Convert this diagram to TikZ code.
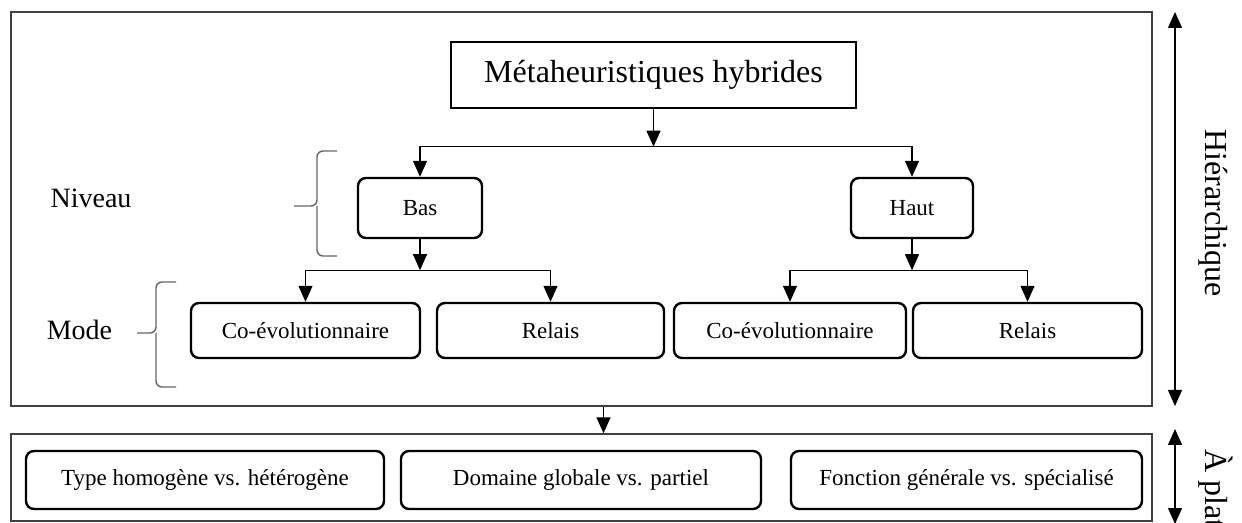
\documentclass[tikz,border=0pt]{standalone}
\usepackage{fontspec}
\setmainfont{Liberation Serif}
\usetikzlibrary{arrows.meta}

\begin{document}
\begin{tikzpicture}[x=0.5pt,y=-0.5pt,
    cadre/.style={draw=black!75, line width=0.7pt, inner sep=0pt},
    boite/.style={draw, line width=1.2pt, rounded corners=4pt, inner sep=0pt,
        minimum height=27.5pt, font=\fontsize{11.5}{13}\selectfont},
    fleche/.style={-{Triangle[width=7pt,length=8pt]}, line width=0.65pt},
    accolade/.style={draw=black!60, line width=0.7pt, rounded corners=3pt},
    grand/.style={font=\fontsize{16}{19}\selectfont}]
    \useasboundingbox (0,0) rectangle (1242,523);

    % les deux cadres
    \node[cadre, minimum width=570.5pt, minimum height=197pt] (hier) at (581.5,209) {};
    \node[cadre, minimum width=570.5pt, minimum height=43.5pt] (plat) at (581.5,477.5) {};

    % hierarchie
    \node[draw, line width=0.7pt, inner sep=0pt, minimum width=202.5pt, minimum height=33pt, grand]
        (titre) at (653.5,75) {Métaheuristiques hybrides};
    \node[boite, minimum width=62pt, minimum height=30pt] (bas) at (420,208) {Bas};
    \node[boite, minimum width=61pt, minimum height=30pt] (haut) at (912,208) {Haut};
    \node[boite, minimum width=114.5pt] (coL) at (305.5,330.5) {Co-évolutionnaire};
    \node[boite, minimum width=113.5pt] (reL) at (550.5,330.5) {Relais};
    \node[boite, minimum width=116pt] (coR) at (790,330.5) {Co-évolutionnaire};
    \node[boite, minimum width=114.5pt] (reR) at (1027.5,330.5) {Relais};

    \path (titre.south) ++(0,38) coordinate (jt);
    \path (bas.south) ++(0,31) coordinate (jb);
    \path (haut.south) ++(0,31) coordinate (jh);

    \draw[fleche] (titre) -- (jt);
    \draw[fleche] (jt) -| (bas);
    \draw[fleche] (jt) -| (haut);
    \draw[fleche] (bas) -- (jb);
    \draw[fleche] (jb) -| (coL);
    \draw[fleche] (jb) -| (reL);
    \draw[fleche] (haut) -- (jh);
    \draw[fleche] (jh) -| (coR);
    \draw[fleche] (jh) -| (reR);

    % accolades
    \node[font=\fontsize{14}{16}\selectfont] (niveau) at (91,198) {Niveau};
    \node[font=\fontsize{14}{16}\selectfont] (mode) at (79.5,330) {Mode};
    \draw[accolade] (337,151) -- (317,151) -- (317,206) -- (294,206);
    \draw[accolade] (337,256) -- (317,256) -- (317,206);
    \draw[accolade] (176,282) -- (156,282) -- (156,333) -- (137,333);
    \draw[accolade] (176,387) -- (156,387) -- (156,333);

    % a plat
    \draw[fleche] ([xshift=11pt]hier.south) -- ([xshift=11pt]plat.north);
    \node[boite, minimum width=179pt, minimum height=29pt] (type) at (205,480) {Type homogène vs. hétérogène};
    \node[boite, minimum width=180pt, minimum height=29pt] (domaine) at (581,480) {Domaine globale vs. partiel};
    \node[boite, minimum width=175.5pt, minimum height=29pt] (fonction) at (966.5,480) {Fonction générale vs. spécialisé};

    % fleches a droite
    \coordinate (h1) at (1175,12);
    \coordinate (h2) at (1175,406);
    \coordinate (p1) at (1175,429);
    \coordinate (p2) at (1175,524);
    \draw[{Triangle[width=7pt,length=8pt]}-{Triangle[width=7pt,length=8pt]}, line width=0.65pt] (h1) -- (h2);
    \draw[{Triangle[width=7pt,length=8pt]}-{Triangle[width=7pt,length=8pt]}, line width=0.65pt] (p1) -- (p2);
    \node[grand, rotate=-90] (hiertxt) at (1213,213) {Hiérarchique};
    \node[grand, rotate=-90, anchor=west] (plattxt) at (1216,442) {À plat};
\end{tikzpicture}
\end{document}
